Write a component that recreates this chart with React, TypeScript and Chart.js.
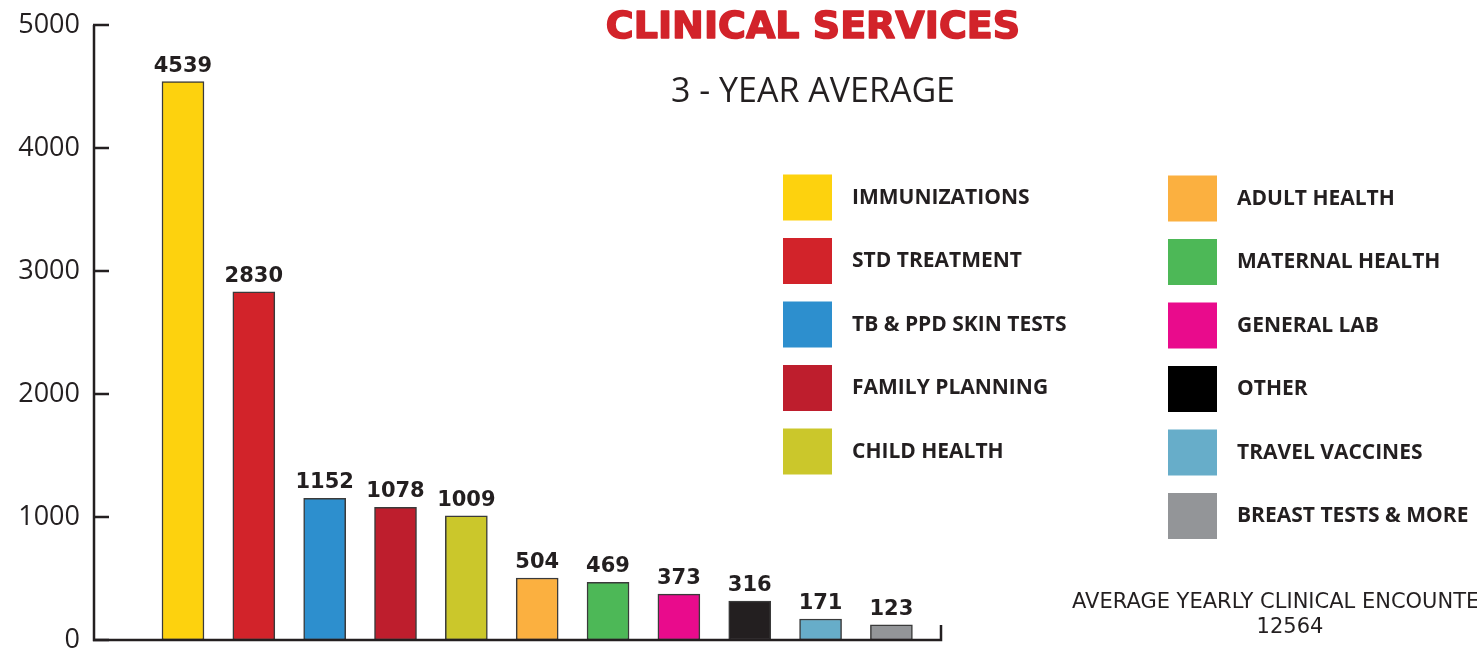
import React, { useEffect, useRef } from "react";
import { Chart, registerables } from "chart.js";

Chart.register(...registerables);

const categories = [
  "IMMUNIZATIONS",
  "STD TREATMENT",
  "TB & PPD SKIN TESTS",
  "FAMILY PLANNING",
  "CHILD HEALTH",
  "ADULT HEALTH",
  "MATERNAL HEALTH",
  "GENERAL LAB",
  "OTHER",
  "TRAVEL VACCINES",
  "BREAST TESTS & MORE",
];
const values = [4539, 2830, 1152, 1078, 1009, 504, 469, 373, 316, 171, 123];
const barColors = [
  "#FDD20E",
  "#D2232A",
  "#2D8FCE",
  "#BE1E2D",
  "#CBC72B",
  "#FBB040",
  "#4DB857",
  "#E90B8C",
  "#231F20",
  "#67ADC9",
  "#939598",
];
const legendColors = [
  "#FDD20E",
  "#D2232A",
  "#2D8FCE",
  "#BE1E2D",
  "#CBC72B",
  "#FBB040",
  "#4DB857",
  "#E90B8C",
  "#000000",
  "#67ADC9",
  "#939598",
];
const yTicks = [0, 1000, 2000, 3000, 4000, 5000];
const titleText = "CLINICAL SERVICES";
const subtitleText = "3 - YEAR AVERAGE";
const footerText = "AVERAGE YEARLY CLINICAL ENCOUNTERS";
const totalEncounters = values.reduce((a, b) => a + b, 0);

const INK = "#231F20";

const decorPlugin = {
  id: "decor",
  afterDatasetsDraw(chart: any) {
    const ctx = chart.ctx;
    const meta = chart.getDatasetMeta(0);
    ctx.save();
    ctx.fillStyle = INK;
    ctx.font = "bold 21px 'DejaVu Sans'";
    ctx.textAlign = "center";
    ctx.textBaseline = "alphabetic";
    meta.data.forEach((bar: any, i: number) => {
      ctx.fillText(String(values[i]), bar.x, bar.y - 10);
    });
    ctx.restore();
  },
  afterDraw(chart: any) {
    const ctx = chart.ctx;
    const { left, right, top, bottom } = chart.chartArea;
    const y = chart.scales.y;
    ctx.save();
    // axes
    ctx.strokeStyle = INK;
    ctx.lineWidth = 2.5;
    ctx.lineCap = "butt";
    ctx.beginPath();
    ctx.moveTo(left, top);
    ctx.lineTo(left, bottom);
    ctx.lineTo(right, bottom);
    ctx.lineTo(right, bottom - 15);
    ctx.stroke();
    ctx.beginPath();
    yTicks.forEach((v) => {
      const py = y.getPixelForValue(v);
      ctx.moveTo(left - 1, py);
      ctx.lineTo(left + 15, py);
    });
    ctx.stroke();

    // titles
    ctx.textAlign = "center";
    ctx.textBaseline = "alphabetic";
    ctx.fillStyle = "#D2232A";
    ctx.strokeStyle = "#D2232A";
    ctx.lineWidth = 1.6;
    ctx.lineJoin = "round";
    ctx.font = "bold 38px 'DejaVu Sans'";
    ctx.fillText(titleText, 813, 38);
    ctx.strokeText(titleText, 813, 38);
    ctx.fillStyle = INK;
    ctx.font = "34px 'Open Sans'";
    ctx.fillText(subtitleText, 813, 102);

    // legend
    ctx.textAlign = "left";
    ctx.font = "bold 21px 'Open Sans'";
    categories.forEach((name, i) => {
      const col = i < 5 ? 0 : 1;
      const row = i < 5 ? i : i - 5;
      const sx = col === 0 ? 783 : 1168;
      const cy = (col === 0 ? 197.5 : 198.5) + row * 63.5;
      ctx.fillStyle = legendColors[i];
      ctx.fillRect(sx, cy - 23, 49, 46);
      ctx.fillStyle = INK;
      ctx.fillText(name, sx + 69, cy + 6);
    });

    // footer
    ctx.font = "21px 'DejaVu Sans'";
    ctx.textAlign = "left";
    ctx.fillText(footerText, 1072, 608);
    ctx.textAlign = "center";
    ctx.fillText(String(totalEncounters), 1290, 633);
    ctx.restore();
  },
};

export default function App() {
  const canvasRef = useRef<HTMLCanvasElement | null>(null);

  useEffect(() => {
    if (!canvasRef.current) return;
    const chart = new Chart(canvasRef.current, {
      type: "bar",
      data: {
        datasets: [
          {
            label: "3-year average",
            data: values.map((v, i) => ({ x: i + 1, y: v })),
            backgroundColor: barColors,
            borderColor: "#3a3a3a",
            borderWidth: 1.5,
            borderSkipped: false,
            barThickness: 42,
          },
        ],
      },
      options: {
        animation: false,
        responsive: true,
        maintainAspectRatio: false,
        layout: { padding: { left: 0, right: 536, top: 25, bottom: 11 } },
        plugins: {
          legend: { display: false },
          tooltip: { enabled: false },
          title: { display: false },
        },
        scales: {
          x: {
            type: "linear",
            display: false,
            offset: false,
            grid: { offset: false },
            min: -0.256,
            max: 11.7,
          },
          y: {
            min: 0,
            max: 5000,
            afterFit: (scale: any) => {
              scale.width = 94;
              scale.paddingTop = 0;
              scale.paddingBottom = 0;
            },
            grid: { display: false, drawTicks: false },
            border: { display: false },
            ticks: {
              stepSize: 1000,
              padding: 14,
              color: INK,
              font: { family: "'Open Sans'", size: 27 },
              callback: (v: any) => String(v),
            },
          },
        },
      },
      plugins: [decorPlugin],
    });
    return () => chart.destroy();
  }, []);

  return (
    <div
      style={{
        position: "fixed",
        left: 0,
        top: 0,
        width: 1477,
        height: 651,
        overflow: "hidden",
        background: "#fff",
      }}
    >
      <canvas ref={canvasRef} />
    </div>
  );
}
